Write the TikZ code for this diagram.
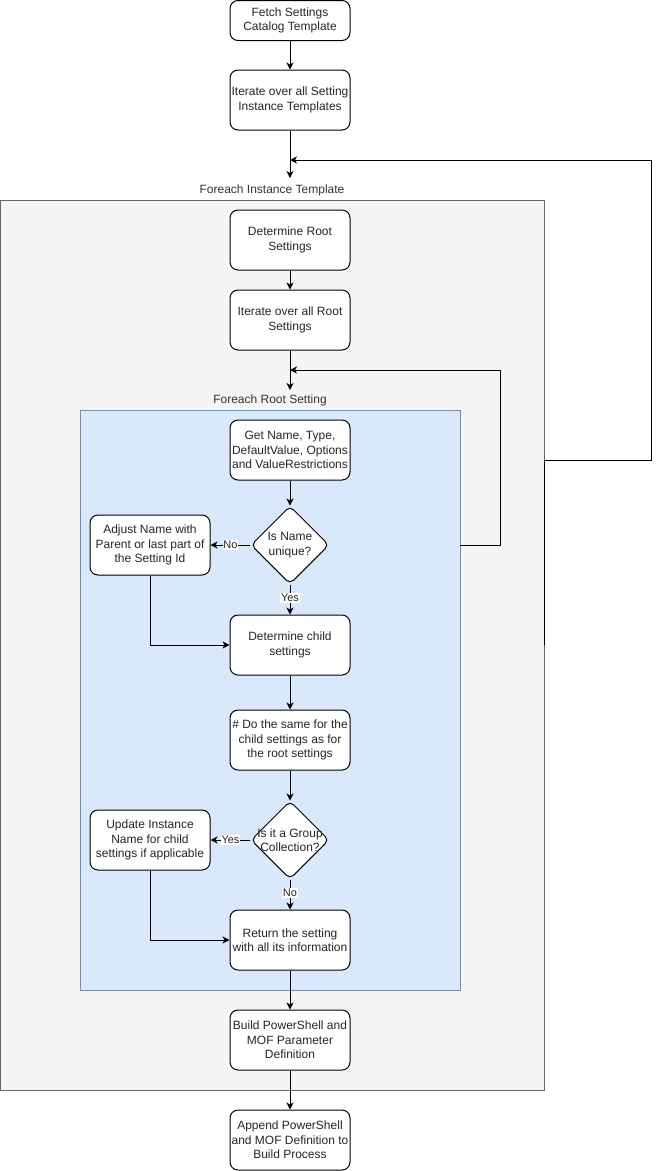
\documentclass[tikz,border=0pt]{standalone}
\usepackage{fontspec}
\setmainfont{Liberation Sans}
\usetikzlibrary{shapes.geometric,arrows.meta,calc}
\definecolor{outerfill}{HTML}{F5F5F5}
\definecolor{outerdraw}{HTML}{666666}
\definecolor{innerfill}{HTML}{DAE8FC}
\definecolor{innerdraw}{HTML}{6C8EBF}
\definecolor{txtgray}{HTML}{333333}
\begin{document}
\begin{tikzpicture}[x=1pt,y=1pt,
  proc/.style={draw, fill=white, rounded corners=8pt, minimum width=120pt, minimum height=60pt,
    align=center, font=\fontsize{12}{14.4}\selectfont, inner sep=0pt, line width=1pt, text=black!85},
  dec/.style={draw, fill=white, diamond, rounded corners=5pt, minimum width=78pt, minimum height=78pt,
    inner sep=0pt, line width=1pt},
  dectext/.style={align=center, font=\fontsize{12}{14.4}\selectfont, inner sep=0pt, text=black!85},
  conn/.style={line width=1pt, -{Stealth[length=7pt,width=7pt,inset=2pt]}},
  elabel/.style={fill=white, inner sep=0.8pt, font=\fontsize{11}{12}\selectfont, text=black!85},
  grplabel/.style={font=\fontsize{12}{14}\selectfont, text=txtgray, inner sep=0pt}
]
\useasboundingbox (0,0) rectangle (659,-1171);

% containers
\node[draw=outerdraw, fill=outerfill, line width=1pt, inner sep=0pt,
      minimum width=543.5pt, minimum height=889.5pt] (outer) at (272.25,-645.25) {};
\node[grplabel] (outerlbl) at (272,-190) {Foreach Instance Template};
\node[draw=innerdraw, fill=innerfill, line width=1pt, inner sep=0pt,
      minimum width=380pt, minimum height=580pt] (inner) at (270,-700) {};
\node[grplabel] (innerlbl) at (270,-400) {Foreach Root Setting};

% nodes
\node[proc, minimum height=40pt] (fetch) at (290,-20.5) {Fetch Settings\\Catalog Template};
\node[proc] (iter1) at (290,-100) {Iterate over all Setting\\Instance Templates};
\node[proc] (detroot) at (290,-240) {Determine Root\\Settings};
\node[proc] (iterroot) at (290,-320) {Iterate over all Root\\Settings};
\node[proc] (getname) at (290,-450) {Get Name, Type,\\DefaultValue, Options\\and ValueRestrictions};
\node[dec] (d1) at (290,-545) {};
\node[dectext] (d1t) at (d1) {Is Name\\unique?};
\node[proc] (adjust) at (150,-545) {Adjust Name with\\Parent or last part of\\the Setting Id};
\node[proc] (detchild) at (290,-645) {Determine child\\settings};
\node[proc] (same) at (290,-740) {\# Do the same for the\\child settings as for\\the root settings};
\node[dec] (d2) at (290,-840) {};
\node[dectext] (d2t) at (d2) {Is it a Group\\Collection?};
\node[proc] (update) at (150,-840) {Update Instance\\Name for child\\settings if applicable};
\node[proc] (ret) at (290,-940) {Return the setting\\with all its information};
\node[proc] (build) at (290,-1040) {Build PowerShell and\\MOF Parameter\\Definition};
\node[proc] (append) at (290,-1140) {Append PowerShell\\and MOF Definition to\\Build Process};

% helper coordinates
\coordinate (outerin) at (290,-178);
\coordinate (innerin) at (290,-390);
\coordinate (outerloop) at (290,-160);
\coordinate (innerloop) at (290,-370);
\coordinate (outerexit) at (544,-645);
\coordinate (innerexit) at (460,-545);

% connectors
\draw[conn] (fetch) -- (iter1);
\draw[conn] (iter1) -- (outerin);
\draw[conn] (detroot) -- (iterroot);
\draw[conn] (iterroot) -- (innerin);
\draw[conn] (getname) -- (d1);
\draw[conn] (d1) -- node[elabel] {No} (adjust);
\draw[conn] (d1) -- node[elabel, pos=0.45] {Yes} (detchild);
\draw[conn] (adjust.south) |- (detchild.west);
\draw[conn] (detchild) -- (same);
\draw[conn] (same) -- (d2);
\draw[conn] (d2) -- node[elabel] {Yes} (update);
\draw[conn] (d2) -- node[elabel, pos=0.45] {No} (ret);
\draw[conn] (update.south) |- (ret.west);
\draw[conn] (ret) -- (build);
\draw[conn] (build) -- (append);
\draw[conn] (innerexit) -- (500,-545) |- (innerloop);
\draw[conn] (outerexit) -- (544,-460) -- (651,-460) |- (outerloop);
\end{tikzpicture}
\end{document}
